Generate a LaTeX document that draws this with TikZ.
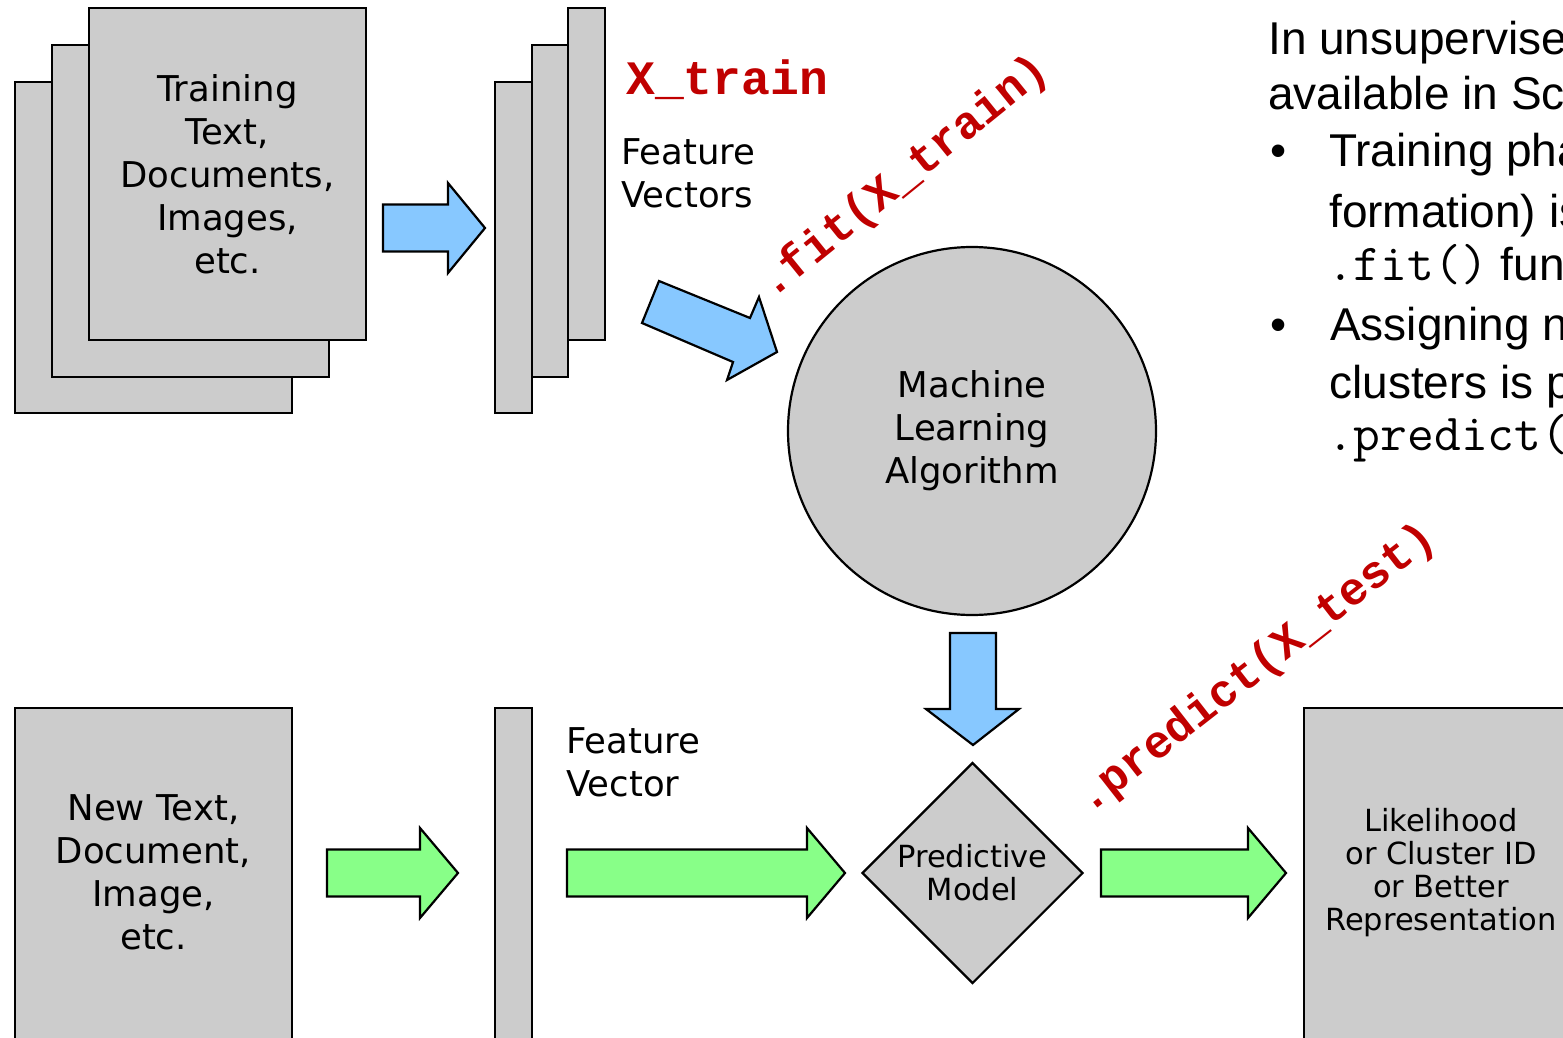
\documentclass[tikz,border=0pt]{standalone}
\usepackage{fontspec}
\setmainfont{DejaVu Sans}
\newfontfamily\codefont{Liberation Mono}
\newfontfamily\slidefont{Liberation Sans}
\usetikzlibrary{shapes.geometric}
\definecolor{boxgray}{HTML}{CCCCCC}
\definecolor{trainblue}{HTML}{87C8FF}
\definecolor{testgreen}{HTML}{88FF88}
\definecolor{codered}{HTML}{C00000}

% horizontal block arrow: style, tail x, centre y, head base x, tip x
\newcommand\hblockarrow[5]{%
  \draw[#1] (#2,#3-23.5) -- (#4,#3-23.5) -- (#4,#3-45) -- (#5,#3)
    -- (#4,#3+45) -- (#4,#3+23.5) -- (#2,#3+23.5) -- cycle;}
% inline code in the explanatory text
\newcommand\slidecode[1]{{\ttfamily\fontsize{52}{52}\selectfont #1}}

\begin{document}
\begin{tikzpicture}[x=1pt,y=-1pt,
  grayblock/.style={draw=black,line width=2.2pt,fill=boxgray,rectangle,inner sep=0pt},
  bigtext/.style={inner sep=0pt,align=center,font=\fontsize{35.5}{43}\selectfont},
  smalltext/.style={inner sep=0pt,align=center,font=\fontsize{30.5}{33}\selectfont},
  bluearrow/.style={draw=black,line width=2.2pt,fill=trainblue,line join=miter},
  greenarrow/.style={draw=black,line width=2.2pt,fill=testgreen,line join=miter},
  redcode/.style={inner sep=0pt,text=codered,font=\codefont\bfseries\fontsize{46}{46}\selectfont},
  slide/.style={inner sep=0pt,anchor=base west,font=\slidefont\fontsize{46}{50}\selectfont}]

\useasboundingbox (0,0) rectangle (1563,1038);
\clip (0,0) rectangle (1563,1038);

% training documents
\node[grayblock,minimum width=277pt,minimum height=331pt] (doc3) at (153.5,247.5) {};
\node[grayblock,minimum width=277pt,minimum height=332pt] (doc2) at (190.5,211) {};
\node[grayblock,minimum width=277pt,minimum height=332pt] (doc1) at (227.5,174) {};
\node[bigtext] (doctext) at (227.5,174) {Training\\Text,\\Documents,\\Images,\\etc.};

\hblockarrow{bluearrow}{383}{228}{448}{485}

% feature vectors
\node[grayblock,minimum width=37pt,minimum height=331pt] (fv3) at (513.5,247.5) {};
\node[grayblock,minimum width=36pt,minimum height=332pt] (fv2) at (550,211) {};
\node[grayblock,minimum width=37pt,minimum height=332pt] (fv1) at (586.5,174) {};
\node[bigtext,align=left,anchor=west] (fvlabel) at (621,173) {Feature\\Vectors};
\node[redcode,anchor=base west,font=\codefont\bfseries\fontsize{48}{48}\selectfont] (xtrain) at (626,95) {X\_train};

% fit arrow into the algorithm
\draw[bluearrow] (659,281) -- (750,318) -- (759,297) -- (777,352) -- (727,380) -- (733,362) -- (642,323) -- cycle;
\node[redcode,anchor=base west,rotate=39] (fitcall) at (772,300) {.fit(X\_train)};

% learning algorithm
\node[grayblock,circle,minimum size=368pt,bigtext] (mla) at (972,431) {Machine\\Learning\\Algorithm};

\draw[bluearrow] (950,633) -- (996,633) -- (996,709) -- (1019,709) -- (973,745) -- (926,709) -- (950,709) -- cycle;

% prediction row
\node[grayblock,minimum width=277pt,minimum height=352pt] (newdoc) at (153.5,884) {};
\node[bigtext] (newtext) at (153.5,872) {New Text,\\Document,\\Image,\\etc.};

\hblockarrow{greenarrow}{327}{873}{420}{458}

\node[grayblock,minimum width=37pt,minimum height=352pt] (fvnew) at (513.5,884) {};
\node[bigtext,align=left,anchor=west] (fvnewlabel) at (566,762) {Feature\\Vector};

\hblockarrow{greenarrow}{567}{873}{807}{845}

\node[grayblock,diamond,aspect=1,minimum width=221pt,minimum height=221pt,smalltext] (model) at (972.5,873) {Predictive\\Model};

\hblockarrow{greenarrow}{1101}{873}{1248}{1286}
\node[redcode,anchor=base west,rotate=38] (predictcall) at (1089.6,814.5) {.predict(X\_test)};

\node[grayblock,minimum width=274pt,minimum height=352pt] (result) at (1441,884) {};
\node[smalltext] (resulttext) at (1441,872.5) {Likelihood\\or Cluster ID\\or Better\\Representation};

% explanatory text
\node[slide] (s1) at (1268,55) {In unsupervised};
\node[slide] (s2) at (1268,110) {available in Scikit};
\node[slide] (b1) at (1270,167) {\textbullet};
\node[slide] (s3) at (1329,167) {Training phase};
\node[slide] (s4) at (1329,227) {formation) is};
\node[slide] (s5) at (1327,280) {\slidecode{.fit()} function};
\node[slide] (b2) at (1270,340) {\textbullet};
\node[slide] (s6) at (1330,340) {Assigning new};
\node[slide] (s7) at (1329,398) {clusters is performed};
\node[slide] (s8) at (1327,450) {\slidecode{.predict()}};
\end{tikzpicture}
\end{document}
